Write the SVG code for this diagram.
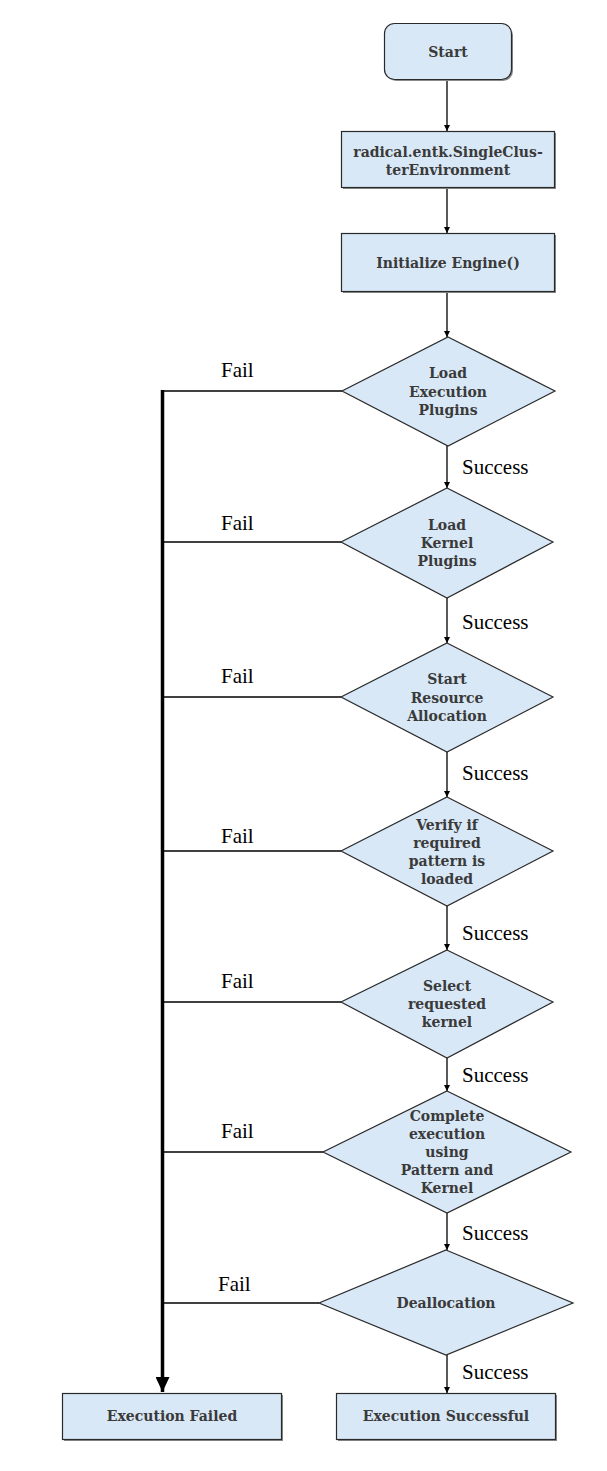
<svg xmlns="http://www.w3.org/2000/svg" width="607" height="1471" viewBox="0 0 607 1471">
<style>
.box{fill:#d8e8f7;stroke:#2a2a2a;stroke-width:1.2}
.shadow{fill:#8a8a8a}
.dia{fill:#d8e8f7;stroke:#2a2a2a;stroke-width:1.2}
.nt{font-family:"DejaVu Serif",serif;font-weight:bold;font-size:14px;fill:#3a3a3a;text-anchor:middle}
.lbl{font-family:"Liberation Serif",serif;font-size:21px;fill:#000}
.c{stroke:#000;stroke-width:1.3;fill:none}
.thick{stroke:#000;stroke-width:3.5;fill:none}
</style>
<defs>
<marker id="ah" viewBox="0 0 10 10" refX="10" refY="5" markerWidth="6" markerHeight="6" markerUnits="userSpaceOnUse" orient="auto">
<path d="M0,0 L10,5 L0,10 z" fill="#000"/>
</marker>
<marker id="ahb" viewBox="0 0 10 10" refX="10" refY="5" markerWidth="15" markerHeight="14" markerUnits="userSpaceOnUse" orient="auto" preserveAspectRatio="none">
<path d="M0,0 L10,5 L0,10 z" fill="#000"/>
</marker>
</defs>
<rect width="607" height="1471" fill="#fff"/>
<g id="connectors">
<line class="c" x1="447" y1="80" x2="447" y2="131" marker-end="url(#ah)"/>
<line class="c" x1="447" y1="188" x2="447" y2="233" marker-end="url(#ah)"/>
<line class="c" x1="447" y1="292" x2="447" y2="337" marker-end="url(#ah)"/>
<line class="c" x1="447" y1="446" x2="447" y2="488" marker-end="url(#ah)"/>
<line class="c" x1="447" y1="598" x2="447" y2="643" marker-end="url(#ah)"/>
<line class="c" x1="447" y1="752" x2="447" y2="797" marker-end="url(#ah)"/>
<line class="c" x1="447" y1="906" x2="447" y2="950" marker-end="url(#ah)"/>
<line class="c" x1="447" y1="1058" x2="447" y2="1091" marker-end="url(#ah)"/>
<line class="c" x1="447" y1="1213" x2="447" y2="1250" marker-end="url(#ah)"/>
<line class="c" x1="447" y1="1355" x2="447" y2="1393" marker-end="url(#ah)"/>
<line class="c" x1="342" y1="391" x2="162" y2="391"/>
<line class="c" x1="341" y1="542" x2="162" y2="542"/>
<line class="c" x1="341" y1="697" x2="162" y2="697"/>
<line class="c" x1="341" y1="851" x2="162" y2="851"/>
<line class="c" x1="341" y1="1002" x2="162" y2="1002"/>
<line class="c" x1="323" y1="1152" x2="162" y2="1152"/>
<line class="c" x1="319" y1="1303" x2="162" y2="1303"/>
<line class="thick" x1="162.5" y1="390" x2="162.5" y2="1392" marker-end="url(#ahb)"/>
<text class="lbl" x="221" y="377">Fail</text>
<text class="lbl" x="221" y="530">Fail</text>
<text class="lbl" x="221" y="683">Fail</text>
<text class="lbl" x="221" y="843">Fail</text>
<text class="lbl" x="221" y="988">Fail</text>
<text class="lbl" x="221" y="1138">Fail</text>
<text class="lbl" x="218" y="1291">Fail</text>
<text class="lbl" x="462" y="474">Success</text>
<text class="lbl" x="462" y="629">Success</text>
<text class="lbl" x="462" y="780">Success</text>
<text class="lbl" x="462" y="940">Success</text>
<text class="lbl" x="462" y="1082">Success</text>
<text class="lbl" x="462" y="1240">Success</text>
<text class="lbl" x="462" y="1379">Success</text>
</g>
<g id="start">
<rect class="shadow" x="386" y="25" width="127" height="56" rx="10"/>
<rect class="box" x="384.5" y="23.5" width="127" height="56" rx="10"/>
<text class="nt" x="448" y="57">Start</text>
</g>
<g id="env">
<rect class="shadow" x="343" y="133" width="213" height="56"/>
<rect class="box" x="341.5" y="131.5" width="213" height="56"/>
<text class="nt" x="448" y="157">radical.entk.SingleClus-</text>
<text class="nt" x="448" y="175">terEnvironment</text>
</g>
<g id="init">
<rect class="shadow" x="343" y="235" width="213" height="58"/>
<rect class="box" x="341.5" y="233.5" width="213" height="58"/>
<text class="nt" x="448" y="268">Initialize Engine()</text>
</g>
<g id="d1">
<polygon class="dia" points="448,337 555,391 448,446 342,391"/>
<text class="nt" x="448" y="378">Load</text>
<text class="nt" x="448" y="397">Execution</text>
<text class="nt" x="448" y="415">Plugins</text>
</g>
<g id="d2">
<polygon class="dia" points="447,488 553,542 447,598 341,542"/>
<text class="nt" x="447" y="530">Load</text>
<text class="nt" x="447" y="548">Kernel</text>
<text class="nt" x="447" y="566">Plugins</text>
</g>
<g id="d3">
<polygon class="dia" points="447,643 553,697 447,752 341,697"/>
<text class="nt" x="447" y="684">Start</text>
<text class="nt" x="447" y="703">Resource</text>
<text class="nt" x="447" y="721">Allocation</text>
</g>
<g id="d4">
<polygon class="dia" points="447,797 553,851 447,906 341,851"/>
<text class="nt" x="447" y="830">Verify if</text>
<text class="nt" x="447" y="848">required</text>
<text class="nt" x="447" y="866">pattern is</text>
<text class="nt" x="447" y="884">loaded</text>
</g>
<g id="d5">
<polygon class="dia" points="447,950 553,1002 447,1058 341,1002"/>
<text class="nt" x="447" y="991">Select</text>
<text class="nt" x="447" y="1009">requested</text>
<text class="nt" x="447" y="1027">kernel</text>
</g>
<g id="d6">
<polygon class="dia" points="447,1091 571,1152 447,1213 323,1152"/>
<text class="nt" x="447" y="1121">Complete</text>
<text class="nt" x="447" y="1139">execution</text>
<text class="nt" x="447" y="1157">using</text>
<text class="nt" x="447" y="1175">Pattern and</text>
<text class="nt" x="447" y="1193">Kernel</text>
</g>
<g id="d7">
<polygon class="dia" points="446,1250 573,1303 446,1355 319,1303"/>
<text class="nt" x="446" y="1308">Deallocation</text>
</g>
<g id="failed">
<rect class="shadow" x="64" y="1395" width="219" height="46"/>
<rect class="box" x="62.5" y="1393.5" width="219" height="46"/>
<text class="nt" x="172" y="1421">Execution Failed</text>
</g>
<g id="success">
<rect class="shadow" x="338" y="1395" width="219" height="46"/>
<rect class="box" x="336.5" y="1393.5" width="219" height="46"/>
<text class="nt" x="446" y="1421">Execution Successful</text>
</g>
</svg>
